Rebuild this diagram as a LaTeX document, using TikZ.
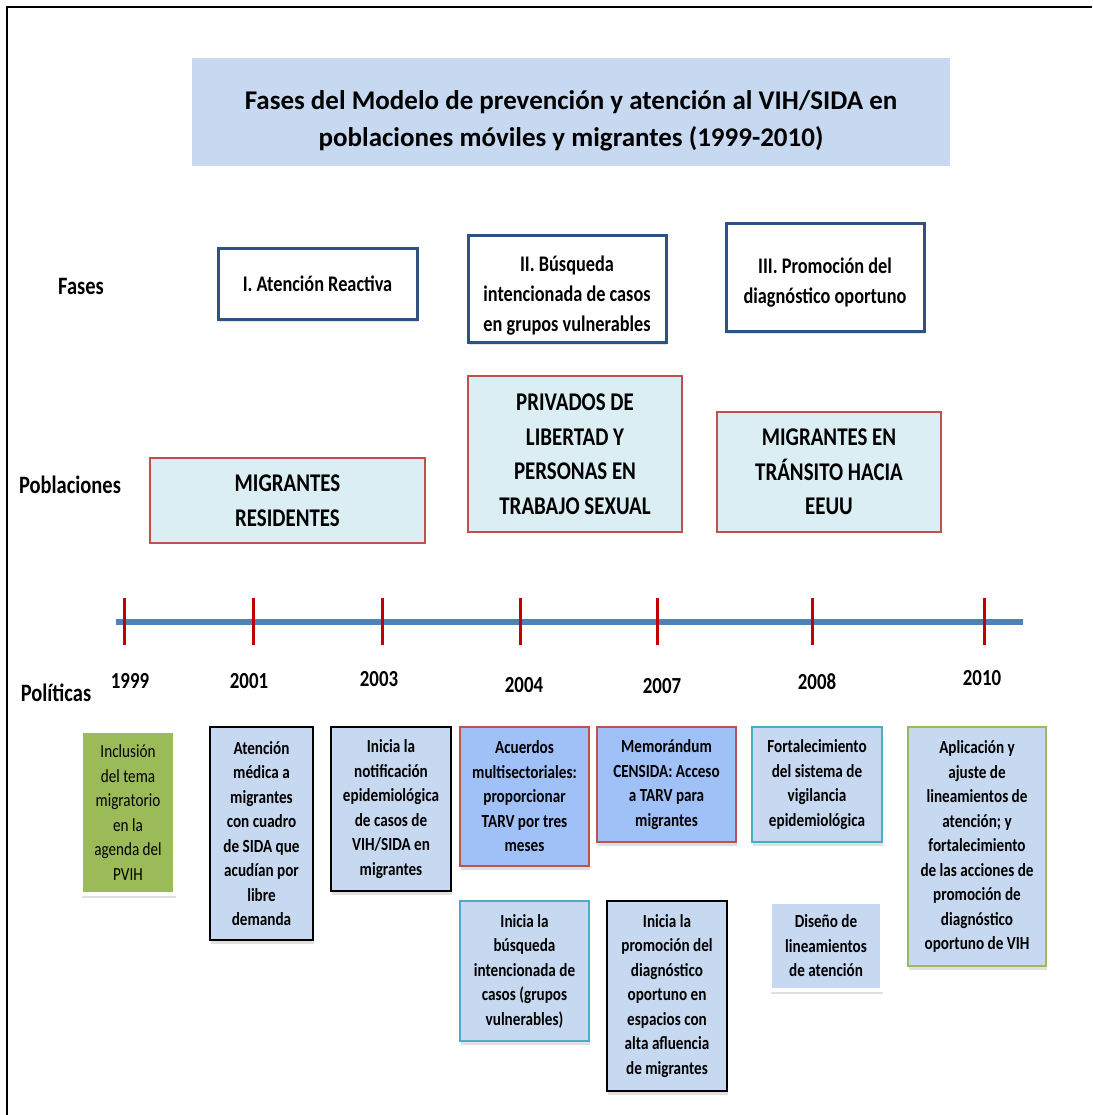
\documentclass[tikz,border=0pt]{standalone}
\usepackage{fontspec}
\setmainfont{Carlito}
\newfontfamily\narrowfont{Carlito}[FakeStretch=0.82]
\usepackage{tikz}
\usetikzlibrary{shadows}
\definecolor{titlefill}{HTML}{C6D9F1}
\definecolor{faseblue}{HTML}{2F5283}
\definecolor{pobfill}{HTML}{DBEEF4}
\definecolor{pobred}{HTML}{C0504D}
\definecolor{lineblue}{HTML}{4F81BD}
\definecolor{tickred}{HTML}{C00000}
\definecolor{polgreen}{HTML}{9BBB59}
\definecolor{polblue}{HTML}{C6D9F1}
\definecolor{polviolet}{HTML}{A0C0F8}
\definecolor{polred}{HTML}{C0504D}
\definecolor{polcyan}{HTML}{4BACC6}
\newcommand{\alzar}[1]{\rule{0pt}{#1}}
\tikzset{
  titlebox/.style={
    fill=titlefill,
    inner sep=0pt,
    align=center,
    font=\bfseries\fontsize{27}{37}\selectfont
  },
  rowlabel/.style={inner sep=0pt, font=\narrowfont\bfseries\fontsize{25}{28}\selectfont},
  yearlabel/.style={inner sep=0pt, font=\narrowfont\bfseries\fontsize{23}{26}\selectfont},
  fasebox/.style={
    draw=faseblue,
    line width=3pt,
    fill=white,
    align=center,
    inner sep=0pt,
    font=\narrowfont\bfseries\fontsize{22.3}{30}\selectfont,
    drop shadow={shadow xshift=1pt, shadow yshift=-3pt, opacity=0.25, fill=black!40}
  },
  pobbox/.style={
    draw=pobred,
    line width=1.2pt,
    fill=pobfill,
    align=center,
    inner sep=0pt,
    font=\narrowfont\bfseries\fontsize{25.5}{34.5}\selectfont
  },
  polbox/.style={
    line width=1.5pt,
    align=center,
    inner sep=0pt,
    font=\narrowfont\bfseries\fontsize{18.5}{24.5}\selectfont,
    drop shadow={shadow xshift=1pt, shadow yshift=-4pt, opacity=0.3, fill=black!40}
  },
  glowbox/.style={polbox, draw=white, line width=4pt},
  timeline/.style={draw=lineblue, line width=6pt},
  yeartick/.style={draw=tickred, line width=3pt},
  frameline/.style={draw=black, line width=2.5pt}
}

\begin{document}
\begin{tikzpicture}[x=1pt, y=-1pt]
\useasboundingbox (0,0) rectangle (1092,1115);
\draw[frameline] (7,1115) -- (7,7) -- (1092,7);

\node[titlebox, minimum width=758pt, minimum height=108pt] (titulo) at (571,112)
  {\alzar{37pt}Fases del Modelo de prevención y atención al VIH/SIDA en\\poblaciones móviles y migrantes (1999-2010)};

\node[rowlabel] (fases) at (81,286) {Fases};
\node[rowlabel] (poblaciones) at (70,485) {Poblaciones};
\node[rowlabel] (politicas) at (56,693) {Políticas};

% fases
\node[fasebox, minimum width=199pt, minimum height=71pt] (fase1) at (317.5,283.5) {I. Atención Reactiva};
\node[fasebox, minimum width=198pt, minimum height=106pt] (fase2) at (567,289) {\alzar{28pt}II. Búsqueda\\intencionada de casos\\en grupos vulnerables};
\node[fasebox, minimum width=198pt, minimum height=107pt] (fase3) at (825,277.5) {\alzar{26pt}III. Promoción del\\diagnóstico oportuno};

% poblaciones
\node[pobbox, minimum width=275pt, minimum height=85pt] (pob1) at (287.5,500.5) {MIGRANTES\\RESIDENTES};
\node[pobbox, minimum width=214pt, minimum height=156pt] (pob2) at (575,454) {PRIVADOS DE\\LIBERTAD Y\\PERSONAS EN\\TRABAJO SEXUAL};
\node[pobbox, minimum width=224pt, minimum height=120pt] (pob3) at (829,472) {MIGRANTES EN\\TRÁNSITO HACIA\\EEUU};

% linea de tiempo
\coordinate (inicio) at (116,622);
\coordinate (fin) at (1023,622);
\draw[timeline] (inicio) -- (fin);
\foreach \tx/\lx/\ly/\yr in {124/130/681/1999,253/249/681/2001,382/379/679/2003,520/524/685/2004,657/662/686/2007,812/817/682/2008,984/982/678/2010}{
  \draw[yeartick] (\tx,598) -- (\tx,645);
  \node[yearlabel] (y\yr) at (\lx,\ly) {\yr};
}

% politicas
\node[glowbox, fill=polgreen, font=\narrowfont\fontsize{18.5}{24.5}\selectfont, minimum width=94pt, minimum height=163pt] (p1999) at (128,812.5) {Inclusión\\del tema\\migratorio\\en la\\agenda del\\PVIH};
\node[polbox, draw=black, fill=polblue, minimum width=103pt, minimum height=213pt] (p2001) at (261.5,833.5) {Atención\\médica a\\migrantes\\con cuadro\\de SIDA que\\acudían por\\libre\\demanda};
\node[polbox, draw=black, fill=polblue, minimum width=120pt, minimum height=164pt] (p2003) at (391,809) {Inicia la\\notificación\\epidemiológica\\de casos de\\VIH/SIDA en\\migrantes};
\node[polbox, draw=polred, fill=polviolet, minimum width=129pt, minimum height=139pt] (p2004a) at (524.5,796.5) {Acuerdos\\multisectoriales:\\proporcionar\\TARV por tres\\meses};
\node[polbox, draw=polcyan, fill=polblue, minimum width=129pt, minimum height=140pt] (p2004b) at (524.5,971) {Inicia la\\búsqueda\\intencionada de\\casos (grupos\\vulnerables)};
\node[polbox, draw=polred, fill=polviolet, minimum width=139pt, minimum height=115pt] (p2007a) at (666.5,784.5) {Memorándum\\CENSIDA: Acceso\\a TARV para\\migrantes};
\node[polbox, draw=black, fill=polblue, minimum width=120pt, minimum height=190pt] (p2007b) at (667,996) {Inicia la\\promoción del\\diagnóstico\\oportuno en\\espacios con\\alta afluencia\\de migrantes};
\node[polbox, draw=polcyan, fill=polblue, minimum width=130pt, minimum height=115pt] (p2008a) at (817,784.5) {Fortalecimiento\\del sistema de\\vigilancia\\epidemiológica};
\node[glowbox, fill=polblue, minimum width=112pt, minimum height=88pt] (p2008b) at (826,946) {Diseño de\\lineamientos\\de atención};
\node[polbox, draw=polgreen, fill=polblue, minimum width=138pt, minimum height=239pt] (p2010) at (977,846.5) {Aplicación y\\ajuste de\\lineamientos de\\atención; y\\fortalecimiento\\de las acciones de\\promoción de\\diagnóstico\\oportuno de VIH};
\end{tikzpicture}
\end{document}
